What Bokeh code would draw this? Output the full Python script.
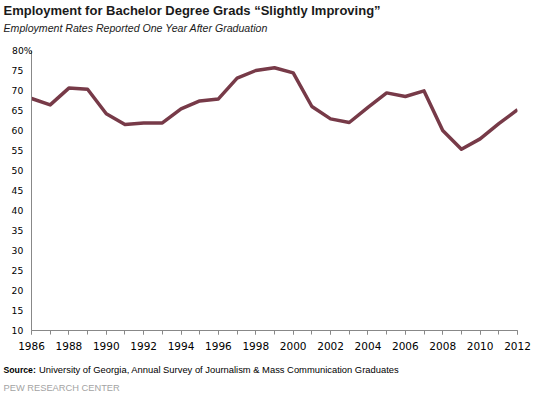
from bokeh.plotting import figure
from bokeh.layouts import column
from bokeh.models import (SingleIntervalTicker, FixedTicker, Range1d, CustomJSTickFormatter,
                          GlobalInlineStyleSheet)
from bokeh.core.properties import value
from bokeh.embed import file_html
from bokeh.resources import INLINE

years = list(range(1986, 2013))
rates = [68.0, 66.4, 70.6, 70.3, 64.2, 61.5, 61.9, 61.9, 65.4, 67.4, 67.9, 73.1, 75.0, 75.7,
         74.4, 66.0, 62.9, 62.0, 65.8, 69.4, 68.5, 69.9, 60.0, 55.3, 57.9, 61.7, 65.2]
y_ticks = list(range(10, 85, 5))

title_text = "Employment for Bachelor Degree Grads \u201cSlightly Improving\u201d"
subtitle_text = "Employment Rates Reported One Year After Graduation"
source_label = "Source:"
source_text = "University of Georgia, Annual Survey of Journalism & Mass Communication Graduates"
credit_text = "PEW RESEARCH CENTER"

W = 537


def text_panel(height):
    f = figure(width=W, height=height, output_backend="svg", toolbar_location=None,
               x_range=Range1d(0, W), y_range=Range1d(height, 0),
               min_border=0, min_border_left=0, min_border_right=0,
               min_border_top=0, min_border_bottom=0, frame_align=False)
    f.axis.visible = False
    f.grid.visible = False
    f.outline_line_color = None
    return f


# header
hdr = text_panel(42)
hdr.text(x=[3], y=[10], text=[title_text], text_font=value("Liberation Sans"),
         text_font_style="bold", text_font_size=value("13px"), text_color="#1a1a1a",
         text_baseline="middle", text_align="left")
hdr.text(x=[3], y=[27.5], text=[subtitle_text], text_font=value("Liberation Sans"),
         text_font_style="italic", text_font_size=value("10.6px"), text_color="#1a1a1a",
         text_baseline="middle", text_align="left")

# main chart
p = figure(width=W, height=316, output_backend="svg", toolbar_location=None,
           x_range=Range1d(1986, 2012), y_range=Range1d(10, 80), frame_align=False,
           min_border_left=31, min_border_right=20, min_border_top=8, min_border_bottom=28)
p.outline_line_color = None
p.xgrid.visible = False
p.ygrid.visible = False

p.line(years, rates, line_color="#773A48", line_width=3.5, line_join="round")

p.xaxis.ticker = SingleIntervalTicker(interval=2, num_minor_ticks=2)
p.xaxis.axis_line_color = "#888888"
p.xaxis.major_tick_line_color = "#888888"
p.xaxis.minor_tick_line_color = "#888888"
p.xaxis.major_tick_in = 0
p.xaxis.major_tick_out = 4
p.xaxis.minor_tick_in = 0
p.xaxis.minor_tick_out = 4
p.xaxis.major_label_text_font = "DejaVu Sans"
p.xaxis.major_label_text_font_size = "10.5px"
p.xaxis.major_label_text_color = "black"
p.xaxis.major_label_standoff = 7

p.yaxis.ticker = FixedTicker(ticks=y_ticks)
# the top label carries the "%" that overlaps the axis; other labels get an
# equally wide blank so that all the numbers line up
p.yaxis.formatter = CustomJSTickFormatter(
    code="return tick == 80 ? tick + '%' : tick + '\\u2003';")
p.yaxis.axis_line_color = "#888888"
p.yaxis.major_tick_line_color = None
p.yaxis.minor_tick_line_color = None
p.yaxis.major_tick_in = 0
p.yaxis.major_tick_out = 0
p.yaxis.minor_tick_in = 0
p.yaxis.minor_tick_out = 0
p.yaxis.major_label_text_font = "DejaVu Sans"
p.yaxis.major_label_text_font_size = "9.2px"
p.yaxis.major_label_text_color = "black"
p.yaxis.major_label_standoff = -1

# footer
ftr = text_panel(37)
ftr.text(x=[3], y=[11.3], text=[source_label], text_font=value("Liberation Sans"),
         text_font_style="bold", text_font_size=value("8.7px"), text_color="black",
         text_baseline="middle", text_align="left")
ftr.text(x=[38.6], y=[11.3], text=[source_text], text_font=value("Liberation Sans"),
         text_font_size=value("9.4px"), text_color="black",
         text_baseline="middle", text_align="left")
ftr.text(x=[3], y=[29.3], text=[credit_text], text_font=value("Liberation Sans"),
         text_font_size=value("9.3px"), text_color="#a3a3a3",
         text_baseline="middle", text_align="left")

layout = column(hdr, p, ftr, spacing=0)
layout.stylesheets = [GlobalInlineStyleSheet(css="html, body { margin: 0; padding: 0; }")]

open("out.html", "w").write(file_html(layout, INLINE))
